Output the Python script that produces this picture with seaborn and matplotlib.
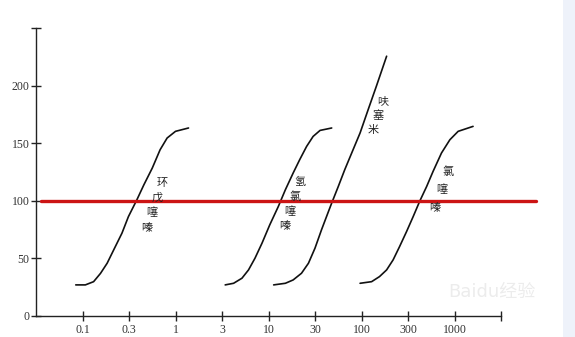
import numpy as np
import pandas as pd
import matplotlib
matplotlib.use("Agg")
import matplotlib.pyplot as plt
from matplotlib.patches import Rectangle
import seaborn as sns

# ---------------- data ----------------
tick_doses = [0.1, 0.3, 1, 3, 10, 30, 100, 300, 1000]
tick_labels = ["0.1", "0.3", "1", "3", "10", "30", "100", "300", "1000"]
y_ticks = [0, 50, 100, 150, 200]

cyclo_dose = [0.084, 0.107, 0.130, 0.153, 0.179, 0.209, 0.254, 0.296, 0.368, 0.441, 0.548, 0.671, 0.805, 1.0, 1.36]
cyclo_val = [27, 27, 29.8, 37, 45.8, 57.4, 71.9, 86.3, 100.9, 113.9, 128.4, 144.3, 154.5, 160.3, 163.2]

hctz_dose = [3.26, 4.05, 5.03, 5.96, 7.05, 8.45, 10.3, 12.6, 14.9, 17.9, 20.9, 24.6, 28.7, 34.2, 46.2]
hctz_val = [27, 28.4, 32.8, 40, 50.2, 63.2, 79.1, 95, 109.6, 124.1, 135.7, 147.2, 155.9, 161.1, 163.2]

furo_dose = [11.3, 14.9, 17.9, 21.8, 25.7, 30, 35.5, 42.5, 46.2, 54.8, 64.8, 77.6, 96.4, 117, 142, 181]
furo_val = [27, 28.4, 31.3, 37.1, 45.8, 58.9, 74.8, 90.7, 98, 112.4, 127, 141.5, 158.9, 179.1, 199.4, 225.5]

chloro_dose = [96.4, 127, 153, 181, 211, 246, 290, 343, 405, 486, 574, 714, 887, 1090, 1550]
chloro_val = [28.4, 29.8, 34.2, 40, 48.7, 60.3, 73.3, 86.3, 99.4, 112.4, 125.5, 141.5, 153, 160.3, 164.6]

drug_names = ["环戊噻嗪", "氢氯噻嗪", "呋塞米", "氯噻嗪"]
reference_level = 100

# ---------------- scale: equally spaced half-decade ticks ----------------
anchor_doses = np.array([0.01, 0.03, 0.1, 0.3, 1, 3, 10, 30, 100, 300, 1000, 3000, 10000])
anchor_log = np.log10(anchor_doses)
anchor_idx = np.arange(-2, len(anchor_doses) - 2, dtype=float)

def fwd(x):
    x = np.asarray(x, dtype=float)
    with np.errstate(divide="ignore", invalid="ignore"):
        lx = np.log10(np.where(x > 0, x, 1e-6))
    return np.interp(lx, anchor_log, anchor_idx)

def inv(i):
    return 10 ** np.interp(np.asarray(i, dtype=float), anchor_idx, anchor_log)

frames = []
for name, d, v in zip(drug_names,
                      [cyclo_dose, hctz_dose, furo_dose, chloro_dose],
                      [cyclo_val, hctz_val, furo_val, chloro_val]):
    frames.append(pd.DataFrame({"dose": d, "effect": v, "drug": name}))
df = pd.concat(frames, ignore_index=True)

# ---------------- figure ----------------
sns.set_theme(style="white")
plt.rcParams["font.family"] = ["Liberation Serif", "Noto Sans CJK SC", "DejaVu Sans"]

fig = plt.figure(figsize=(5.75, 3.37), dpi=100)
fig.patch.set_facecolor("white")
fig.patches.append(Rectangle((563 / 575, 0), 1 - 563 / 575, 1, transform=fig.transFigure,
                             facecolor="#eef2fa", edgecolor="none", zorder=0))
ax = fig.add_axes([36 / 575, 21 / 337, (501 - 36) / 575, (316 - 28) / 337])
ax.set_facecolor("none")
ax.set_xscale("function", functions=(fwd, inv))

sns.lineplot(data=df, x="dose", y="effect", hue="drug", units="drug", estimator=None,
             palette=["#111111"] * 4, linewidth=1.2, legend=False, ax=ax, sort=False)

ax.set_xlim(0.03, 3000)
ax.set_ylim(0, 250)

ax.set_xticks(tick_doses + [3000])
ax.set_xticklabels(tick_labels + [""])
ax.set_yticks(y_ticks + [250])
ax.set_yticklabels([str(t) for t in y_ticks] + [""])
ax.minorticks_off()
ax.tick_params(axis="both", bottom=True, left=True, direction="inout", length=7, width=1.0,
               color="#222222", labelsize=8.5, labelcolor="#333333", pad=1)
ax.tick_params(axis="x", pad=2)
for s in ["top", "right"]:
    ax.spines[s].set_visible(False)
for s in ["left", "bottom"]:
    ax.spines[s].set_color("#222222")
    ax.spines[s].set_linewidth(1.0)
ax.set_xlabel("")
ax.set_ylabel("")

# reference line
ax.plot([0.034, 7500], [reference_level, reference_level], color="#cc1414",
        linewidth=2.4, clip_on=False, zorder=5)

# vertical drug labels (characters staggered along the curves)
label_anchor = [(0.705, 115.4, -3.6, 10.8), (21.0, 116.8, -3.6, 10.8),
                (167, 186.3, -3.6, 10.3), (846, 125.5, -4.7, 13.0)]
for name, (x0, y0, dx, dy) in zip(drug_names, label_anchor):
    for k, ch in enumerate(name):
        ax.annotate(ch, xy=(x0, y0), xytext=(k * dx, -k * dy), textcoords="offset points",
                    ha="center", va="center", fontsize=8, color="#222222",
                    family=["Noto Sans CJK SC", "DejaVu Sans"], zorder=6)

# watermark
fig.text(0.855, 0.135, "Baidu经验", fontsize=13, color="#ececec", ha="center", va="center",
         family=["DejaVu Sans", "Noto Sans CJK SC"], zorder=1)

fig.savefig("out.png", dpi=100)
